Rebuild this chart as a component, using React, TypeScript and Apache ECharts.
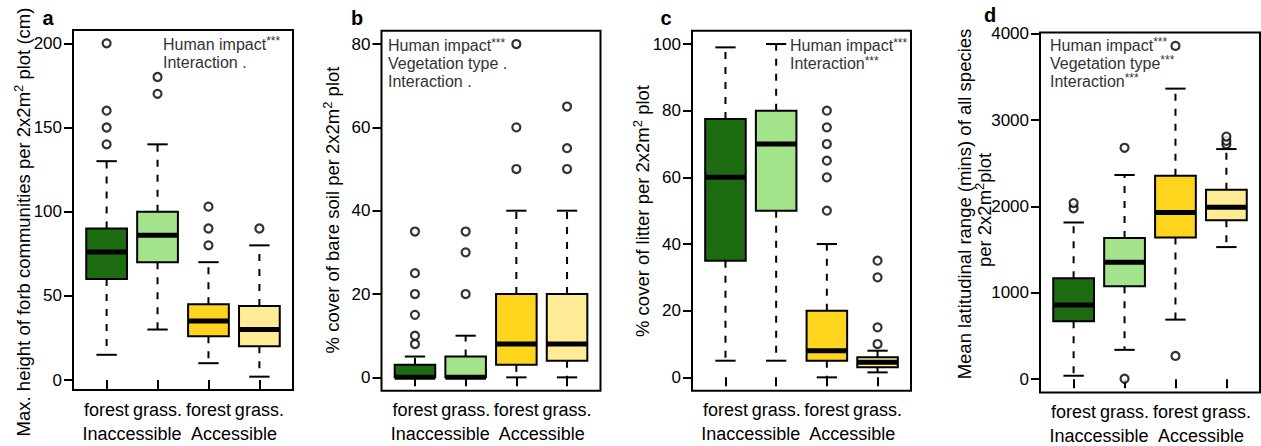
import React, { useEffect, useRef } from "react";
import * as echarts from "echarts";

// ---------- data ----------
const groups = ["forest", "grass.", "forest", "grass."];
const accessLabels = ["Inaccessible", "Accessible"];

// Panel a: max. height of forb communities (cm)
const aLow = [15, 30, 10, 2];
const aQ1 = [60, 70, 26, 20];
const aMed = [76, 86, 35, 30];
const aQ3 = [90, 100, 45, 44];
const aHigh = [130, 140, 70, 80];
const aOut = [[0, 140], [0, 150], [0, 160], [0, 200], [1, 170], [1, 180], [2, 80], [2, 90], [2, 103], [3, 90]];
const aTicks = [0, 50, 100, 150, 200];

// Panel b: % cover of bare soil
const bLow = [0, 0, 0, 0];
const bQ1 = [0, 0, 3, 4];
const bMed = [0, 0, 8, 8];
const bQ3 = [3, 5, 20, 20];
const bHigh = [5, 10, 40, 40];
const bOut = [[0, 8], [0, 10], [0, 15], [0, 20], [0, 25], [0, 35], [1, 20], [1, 30], [1, 35], [2, 50], [2, 60], [2, 80], [3, 50], [3, 55], [3, 65]];
const bTicks = [0, 20, 40, 60, 80];

// Panel c: % cover of litter
const cLow = [5, 5, 0, 1.5];
const cQ1 = [35, 50, 5, 3];
const cMed = [60, 70, 8, 4.5];
const cQ3 = [77.5, 80, 20, 6];
const cHigh = [99, 100, 40, 8];
const cOut = [[2, 50], [2, 60], [2, 65], [2, 70], [2, 75], [2, 80], [3, 10], [3, 15], [3, 30], [3, 35]];
const cTicks = [0, 20, 40, 60, 80, 100];

// Panel d: mean latitudinal range (mins)
const dLow = [40, 340, 690, 1530];
const dQ1 = [670, 1075, 1640, 1840];
const dMed = [860, 1355, 1930, 1990];
const dQ3 = [1170, 1635, 2355, 2195];
const dHigh = [1815, 2365, 3365, 2665];
const dOut = [[0, 1980], [0, 2040], [1, 5], [1, 2680], [2, 270], [2, 3860], [3, 2720], [3, 2760], [3, 2810]];
const dTicks = [0, 1000, 2000, 3000, 4000];

// ---------- styles ----------
const FONT = '"Liberation Sans", Arial, Helvetica, sans-serif';
const FILLS = ["#1d6c12", "#a3e38c", "#fed41c", "#feeb95"];
const LW = 2;

const panels = [
  {
    letter: "a", frame: [73, 30, 220, 360], yMin: -5.92, yMax: 207.92, ticks: aTicks,
    low: aLow, q1: aQ1, med: aMed, q3: aQ3, high: aHigh, out: aOut,
    titles: [{ text: "Max. height of forb communities per 2x2m{s|2} plot (cm)", x: 23, y: 222 }],
    note: "Human impact{s|***}\nInteraction .", noteX: 163, noteY: 35, letterX: 48, letterY: 18,
  },
  {
    letter: "b", frame: [381.5, 30.7, 219, 360], yMin: -3.2, yMax: 83.2, ticks: bTicks,
    low: bLow, q1: bQ1, med: bMed, q3: bQ3, high: bHigh, out: bOut,
    titles: [{ text: "% cover of bare soil per 2x2m{s|2} plot", x: 332, y: 210 }],
    note: "Human impact{s|***}\nVegetation type .\nInteraction .", noteX: 388, noteY: 36.5, letterX: 357, letterY: 18,
  },
  {
    letter: "c", frame: [692, 30.7, 219, 360], yMin: -4, yMax: 104, ticks: cTicks,
    low: cLow, q1: cQ1, med: cMed, q3: cQ3, high: cHigh, out: cOut,
    titles: [{ text: "% cover of litter per 2x2m{s|2} plot", x: 642, y: 211 }],
    note: "Human impact{s|***}\nInteraction{s|***}", noteX: 790, noteY: 36.5, letterX: 666, letterY: 18,
  },
  {
    letter: "d", frame: [1040, 32.5, 220, 360], yMin: -154, yMax: 4015, ticks: dTicks,
    low: dLow, q1: dQ1, med: dMed, q3: dQ3, high: dHigh, out: dOut,
    titles: [
      { text: "Mean latitudinal range (mins) of all species", x: 964, y: 204 },
      { text: "per 2x2m{s|2}plot", x: 984, y: 210 },
    ],
    note: "Human impact{s|***}\nVegetation type{s|***}\nInteraction{s|***}", noteX: 1050, noteY: 36, letterX: 990, letterY: 15,
  },
];

function renderBox(params: any, api: any) {
  const i = api.value(0);
  const band = api.size([1, 0])[0];
  const bw = band * 0.8;
  const cw = band * 0.4;
  const pLow = api.coord([i, api.value(1)]);
  const cx = pLow[0];
  const yLow = pLow[1];
  const yQ1 = api.coord([i, api.value(2)])[1];
  const yMed = api.coord([i, api.value(3)])[1];
  const yQ3 = api.coord([i, api.value(4)])[1];
  const yHigh = api.coord([i, api.value(5)])[1];
  const dash = { stroke: "#000", lineWidth: LW, lineDash: [7, 8] };
  const solid = { stroke: "#000", lineWidth: LW };
  return {
    type: "group",
    children: [
      { type: "line", shape: { x1: cx, y1: yQ1, x2: cx, y2: yLow }, style: dash },
      { type: "line", shape: { x1: cx, y1: yQ3, x2: cx, y2: yHigh }, style: dash },
      { type: "line", shape: { x1: cx - cw / 2, y1: yLow, x2: cx + cw / 2, y2: yLow }, style: solid },
      { type: "line", shape: { x1: cx - cw / 2, y1: yHigh, x2: cx + cw / 2, y2: yHigh }, style: solid },
      {
        type: "rect",
        shape: { x: cx - bw / 2, y: yQ3, width: bw, height: yQ1 - yQ3 },
        style: { fill: FILLS[i], stroke: "#000", lineWidth: LW },
      },
      { type: "line", shape: { x1: cx - bw / 2, y1: yMed, x2: cx + bw / 2, y2: yMed }, style: { stroke: "#000", lineWidth: 5 } },
    ],
  };
}

function buildOption() {
  const grid: any[] = [];
  const xAxis: any[] = [];
  const yAxis: any[] = [];
  const series: any[] = [];
  const graphic: any[] = [];

  panels.forEach((p, k) => {
    const [fl, ft, fw, fh] = p.frame;
    const unit = fw / 4.32;
    const gl = fl + 0.16 * unit;
    grid.push({ left: gl, top: ft, width: 4 * unit, height: fh, containLabel: false });

    const labelStyle = { fontSize: 18, fontFamily: FONT, color: "#000", margin: 10.6, interval: 0 };
    xAxis.push({
      type: "category", gridIndex: k, data: groups, position: "bottom",
      axisLine: { show: false },
      axisTick: { show: true, alignWithLabel: true, length: 9, interval: 0, lineStyle: { color: "#000", width: LW } },
      axisLabel: labelStyle,
      splitLine: { show: false },
    });
    xAxis.push({
      type: "category", gridIndex: k, data: accessLabels, position: "bottom", offset: 24,
      axisLine: { show: false }, axisTick: { show: false },
      axisLabel: labelStyle, splitLine: { show: false },
    });
    yAxis.push({
      type: "value", gridIndex: k, min: p.yMin, max: p.yMax, offset: gl - fl,
      axisLine: { show: false },
      axisTick: { show: true, customValues: p.ticks, length: 9, lineStyle: { color: "#000", width: LW } },
      axisLabel: { customValues: p.ticks, fontSize: 17, fontFamily: FONT, color: "#000", margin: 11, formatter: (v: number) => String(v) },
      splitLine: { show: false },
    });

    const rows = groups.map((_, i) => [i, p.low[i], p.q1[i], p.med[i], p.q3[i], p.high[i]]);
    series.push({
      type: "custom", xAxisIndex: 2 * k, yAxisIndex: k, data: rows,
      encode: { x: 0, y: [1, 2, 3, 4, 5] }, renderItem: renderBox, silent: true,
    });
    series.push({
      type: "scatter", xAxisIndex: 2 * k, yAxisIndex: k, data: p.out,
      symbol: "circle", symbolSize: 8, z: 5,
      itemStyle: { color: "#fff", borderColor: "#000", borderWidth: 2.2 }, silent: true,
    });

    graphic.push({
      type: "rect", silent: true, z: 10,
      shape: { x: fl, y: ft, width: fw, height: fh },
      style: { fill: "none", stroke: "#000", lineWidth: LW },
    });
    graphic.push({
      type: "text", silent: true, x: p.letterX, y: p.letterY,
      style: { text: p.letter, fontSize: 20, fontWeight: "bold", fontFamily: FONT, fill: "#000", textAlign: "center", textVerticalAlign: "middle" },
    });
    graphic.push({
      type: "text", silent: true, x: p.noteX, y: p.noteY,
      style: {
        text: p.note, fontSize: 16, fontFamily: FONT, fill: "#333", lineHeight: 18, textAlign: "left", textVerticalAlign: "top",
        rich: { s: { fontSize: 12, fontFamily: FONT, fill: "#333", lineHeight: 11, verticalAlign: "top" } },
      },
    });
    p.titles.forEach((t) => {
      graphic.push({
        type: "text", silent: true, x: t.x, y: t.y, rotation: Math.PI / 2,
        style: {
          text: t.text, fontSize: 18.5, fontFamily: FONT, fill: "#000", lineHeight: 22, textAlign: "center", textVerticalAlign: "middle",
          rich: { s: { fontSize: 13, fontFamily: FONT, fill: "#000", lineHeight: 12, verticalAlign: "top" } },
        },
      });
    });
  });

  return { animation: false, backgroundColor: "#fff", grid, xAxis, yAxis, series, graphic };
}

export default function App() {
  const ref = useRef<HTMLDivElement>(null);
  useEffect(() => {
    document.body.style.margin = "0";
    if (!ref.current) return;
    const chart = echarts.init(ref.current, undefined, { renderer: "svg" });
    chart.setOption(buildOption());
    return () => chart.dispose();
  }, []);
  return <div ref={ref} style={{ width: 1261, height: 446 }} />;
}
